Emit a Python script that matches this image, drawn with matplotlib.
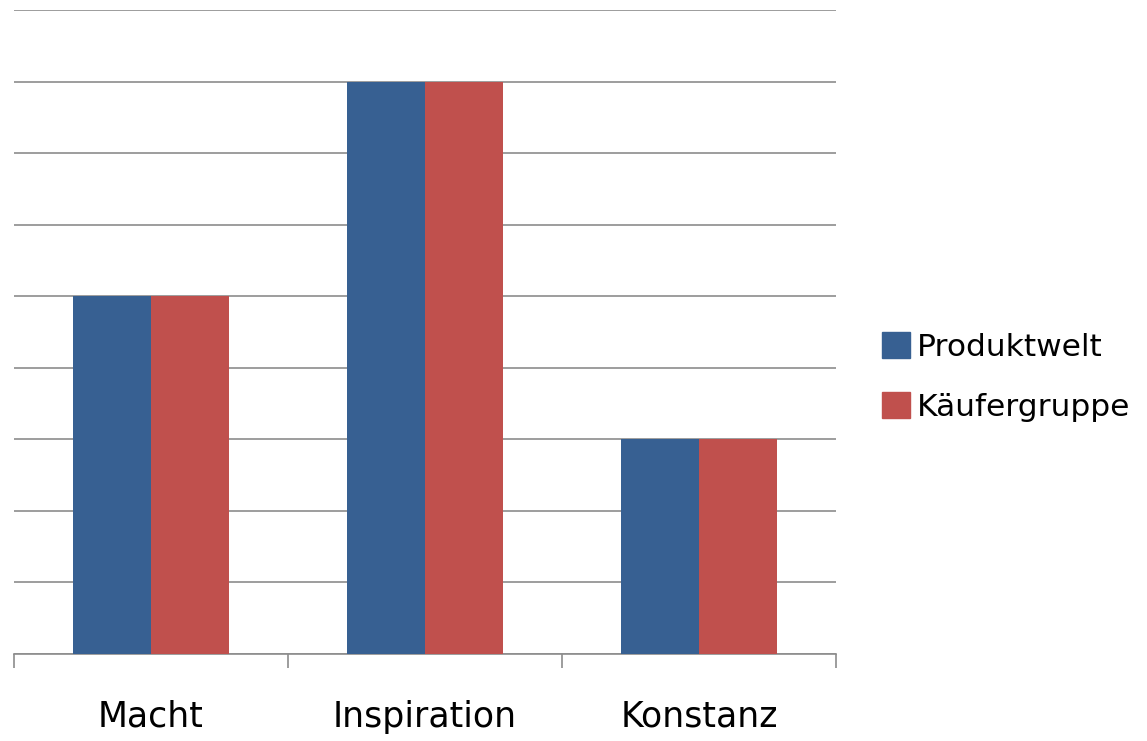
import numpy as np
import matplotlib.pyplot as plt
from matplotlib.patches import Patch

categories = ['Macht', 'Inspiration', 'Konstanz']
produktwelt = [5, 8, 3]
kaeufergruppe = [5, 8, 3]
series_names = ['Produktwelt', 'Käufergruppe']

blue = '#376092'
red = '#c0504d'
grid_col = '#8c8c8c'

plt.rcParams['font.family'] = ['DejaVu Sans']

fig = plt.figure(figsize=(11.47, 7.41), dpi=100)
ax = fig.add_axes([14/1147, 1-654/741, 822/1147, 644/741])

x = np.arange(len(categories))
w = 0.286
ax.bar(x - w/2, produktwelt, w, color=blue, zorder=3)
ax.bar(x + w/2, kaeufergruppe, w, color=red, zorder=3)

ax.set_xlim(-0.5, 2.5)
ax.set_ylim(0, 9)
ax.set_yticks(np.arange(0, 10))
ax.yaxis.grid(True, color=grid_col, linewidth=1.2, zorder=0)
ax.set_axisbelow(True)
ax.tick_params(axis='y', left=False, labelleft=False)

ax.set_xticks(x)
ax.set_xticklabels(categories, fontsize=25)
ax.tick_params(axis='x', which='major', length=0, pad=33)
ax.set_xticks([-0.5, 0.5, 1.5, 2.5], minor=True)
ax.tick_params(axis='x', which='minor', length=10, width=1.2, color=grid_col)

for s in ['top', 'right', 'left']:
    ax.spines[s].set_visible(False)
ax.spines['bottom'].set_color(grid_col)
ax.spines['bottom'].set_linewidth(1.2)

handles = [Patch(color=blue), Patch(color=red)]
fig.legend(handles, series_names, loc='center left', bbox_to_anchor=(882/1147, 1-377/741),
           frameon=False, fontsize=22.5, handlelength=0.9, handleheight=0.9,
           handletextpad=0.2, labelspacing=0.95, borderaxespad=0, borderpad=0)

fig.savefig('out.png', dpi=100)
